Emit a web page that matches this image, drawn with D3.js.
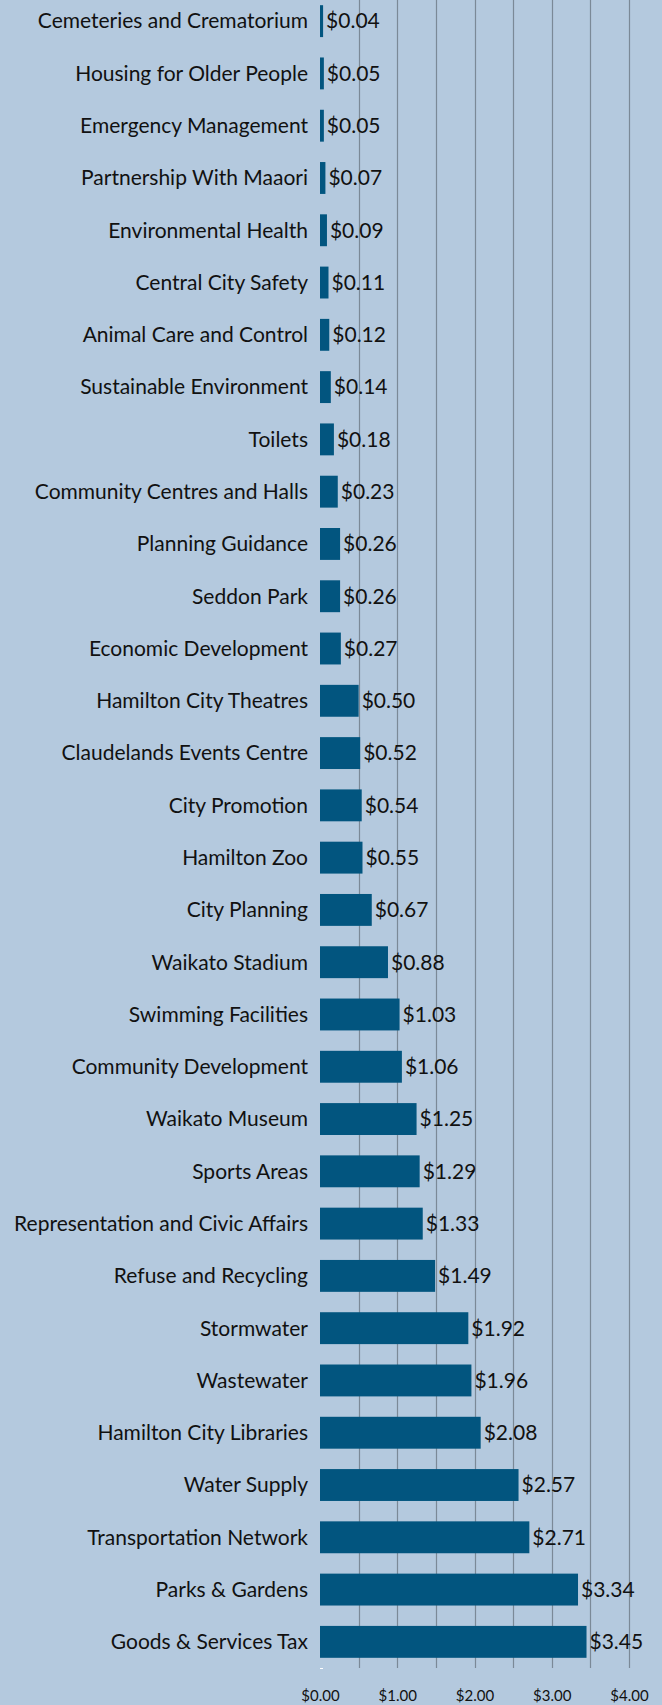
<!DOCTYPE html>
<html>
<head>
<meta charset="utf-8">
<script src="https://cdn.jsdelivr.net/npm/d3@7"></script>
<style>
  html, body { margin: 0; padding: 0; background: #b4c9de; overflow: hidden; }
  text { font-family: Lato, "Open Sans", sans-serif; fill: #111; }
</style>
</head>
<body>
<div id="plot"></div>
<script>
"use strict";

const categories = [
    "Cemeteries and Crematorium", "Housing for Older People", "Emergency Management",
    "Partnership With Maaori", "Environmental Health", "Central City Safety",
    "Animal Care and Control", "Sustainable Environment", "Toilets",
    "Community Centres and Halls", "Planning Guidance", "Seddon Park",
    "Economic Development", "Hamilton City Theatres", "Claudelands Events Centre",
    "City Promotion", "Hamilton Zoo", "City Planning", "Waikato Stadium",
    "Swimming Facilities", "Community Development", "Waikato Museum",
    "Sports Areas", "Representation and Civic Affairs", "Refuse and Recycling",
    "Stormwater", "Wastewater", "Hamilton City Libraries", "Water Supply",
    "Transportation Network", "Parks & Gardens", "Goods & Services Tax"
];
const values = [
    0.04, 0.05, 0.05, 0.07, 0.09, 0.11, 0.12, 0.14, 0.18, 0.23, 0.26, 0.26,
    0.27, 0.50, 0.52, 0.54, 0.55, 0.67, 0.88, 1.03, 1.06, 1.25, 1.29, 1.33,
    1.49, 1.92, 1.96, 2.08, 2.57, 2.71, 3.34, 3.45
];
const tickValues = [0, 1, 2, 3, 4];
const gridValues = [0.5, 1, 1.5, 2, 2.5, 3, 3.5, 4];

const msm = {
    width: 662,
    height: 1705,
    left: 320,
    right: 629,
    top: -5,
    bottom: 1668
};

const data = categories.map((c, i) => ({ name: c, value: values[i] }));

const svg = d3.select("#plot")
    .append("svg")
    .attr("width", msm.width)
    .attr("height", msm.height);

svg.append("rect")
    .attr("width", msm.width)
    .attr("height", msm.height)
    .attr("fill", "#b4c9de");

const xScale = d3.scaleLinear()
    .domain([0, 4])
    .range([msm.left, msm.right]);

const yScale = d3.scaleBand()
    .domain(categories)
    .range([msm.top, msm.bottom])
    .paddingInner(0.39)
    .paddingOuter(0.195);

// vertical gridlines
svg.append("g")
    .selectAll("line")
    .data(gridValues)
    .enter()
    .append("line")
    .attr("x1", d => Math.round(xScale(d)) + 0.5)
    .attr("x2", d => Math.round(xScale(d)) + 0.5)
    .attr("y1", 0)
    .attr("y2", msm.bottom)
    .attr("stroke", "#7b8997")
    .attr("stroke-width", 1.2);

// little white tick at the origin
svg.append("line")
    .attr("x1", xScale(0))
    .attr("x2", xScale(0) + 3)
    .attr("y1", msm.bottom + 0.5)
    .attr("y2", msm.bottom + 0.5)
    .attr("stroke", "#ffffff")
    .attr("stroke-width", 1);

// bars
svg.append("g")
    .selectAll("rect")
    .data(data)
    .enter()
    .append("rect")
    .attr("x", xScale(0))
    .attr("y", d => yScale(d.name))
    .attr("width", d => xScale(d.value) - xScale(0))
    .attr("height", yScale.bandwidth())
    .attr("fill", "#02557f");

// category labels
svg.append("g")
    .selectAll("text")
    .data(data)
    .enter()
    .append("text")
    .attr("x", xScale(0) - 12)
    .attr("y", d => yScale(d.name) + yScale.bandwidth() / 2)
    .attr("dy", "0.35em")
    .attr("text-anchor", "end")
    .style("font-size", "21px")
    .text(d => d.name);

// value labels
const fmt = d3.format(".2f");
svg.append("g")
    .selectAll("text")
    .data(data)
    .enter()
    .append("text")
    .attr("x", d => xScale(d.value) + 3)
    .attr("y", d => yScale(d.name) + yScale.bandwidth() / 2)
    .attr("dy", "0.35em")
    .style("font-size", "21px")
    .text(d => "$" + fmt(d.value));

// x axis tick labels
const xAxis = d3.axisBottom(xScale)
    .tickValues(tickValues)
    .tickSize(0)
    .tickPadding(0)
    .tickFormat(d => "$" + fmt(d));
const axisG = svg.append("g")
    .attr("transform", "translate(0," + (msm.bottom + 22) + ")")
    .call(xAxis);
axisG.select(".domain").remove();
axisG.selectAll("text")
    .style("font-size", "15px")
    .style("font-family", "Lato, 'Open Sans', sans-serif")
    .attr("fill", "#111");
</script>
</body>
</html>
